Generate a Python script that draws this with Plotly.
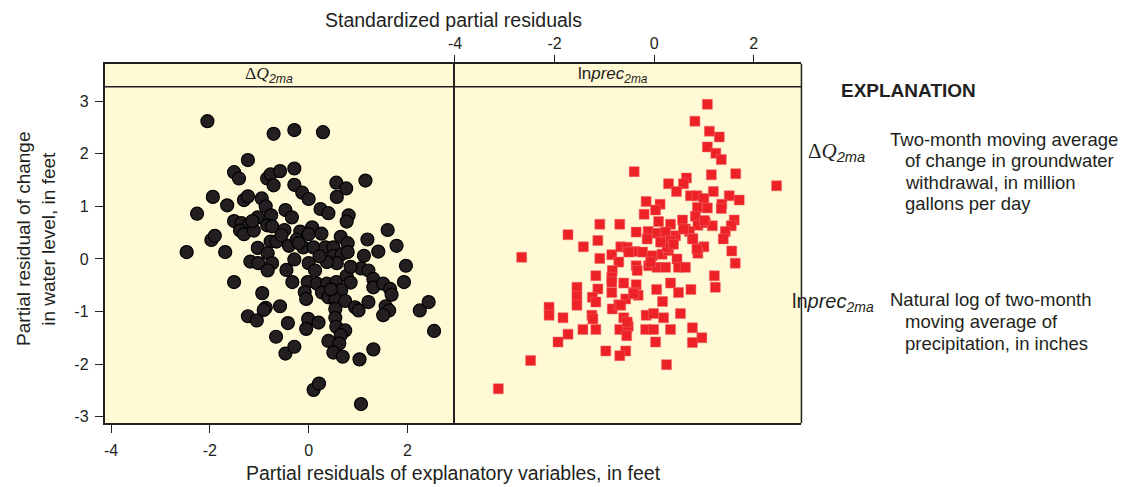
import plotly.graph_objects as go

# Partial residuals for the change-in-withdrawal term (left panel)
dq_x = [
    -2.05, -0.71, -0.29, 0.29, -1.23, -1.51, -1.41, -0.84, -0.77, -0.58,
    -0.29, -0.71, -0.29, -0.13, 0.00, 0.56, 0.76, 0.57, 1.15, -1.94,
    -1.65, -1.31, -1.23, -0.95, -2.26, -0.87, -0.76, -0.47, -0.34, 0.24,
    0.40, 0.81, 0.77, -1.51, -1.36, -1.21, -1.39, -1.31, -1.11, -1.03,
    -0.84, -0.74, -0.49, -0.17, 0.07, 0.00, 0.26, -1.97, -1.90, -2.47,
    -1.69, -1.03, -0.77, -0.65, -0.40, -0.24, -0.11, 0.10, 0.34, 0.50,
    0.65, 0.79, 0.50, 0.67, 0.57, 0.79, 1.19, 1.60, 1.78, 1.41,
    1.12, 1.97, -1.18, -1.02, -0.83, -0.74, -0.83, -0.45, -0.29, 0.00,
    0.13, 0.37, 1.06, 1.21, 1.31, 1.31, 1.51, 1.65, 1.68, 1.93,
    -1.51, -0.33, -0.02, 0.17, 0.37, 0.56, 0.77, 0.85, -0.94, -0.08,
    -0.05, 0.27, 0.40, 0.66, 0.54, 0.74, 0.94, 1.01, 1.21, 1.56,
    1.63, 1.51, -0.87, -0.91, -0.58, 0.54, 0.54, -1.23, -1.05, -0.42,
    -0.01, -0.05, 0.20, 0.56, 0.74, 0.65, 2.25, 2.43, 2.54, -0.66,
    0.40, 0.62, -0.47, -0.29, 0.50, 0.69, 1.03, 1.31, 0.10, 0.21,
    1.06, -1.14, -0.55, 0.22, 0.45, -0.20, 0.85,
]
dq_y = [
    2.62, 2.38, 2.45, 2.41, 1.88, 1.65, 1.53, 1.53, 1.61, 1.67,
    1.72, 1.40, 1.41, 1.26, 1.14, 1.45, 1.34, 1.18, 1.49, 1.18,
    1.02, 1.12, 1.19, 1.15, 0.86, 1.00, 0.83, 0.93, 0.79, 0.95,
    0.87, 0.83, 0.71, 0.72, 0.68, 0.66, 0.54, 0.47, 0.54, 0.79,
    0.64, 0.62, 0.55, 0.52, 0.60, 0.47, 0.48, 0.36, 0.44, 0.13,
    0.13, 0.21, 0.33, 0.33, 0.25, 0.37, 0.22, 0.22, 0.22, 0.22,
    0.42, 0.30, 0.06, 0.09, -0.08, 0.13, 0.37, 0.55, 0.25, 0.14,
    0.06, -0.13, -0.05, -0.08, 0.11, -0.08, -0.22, -0.21, -0.01, -0.08,
    -0.22, -0.06, -0.18, -0.22, -0.38, -0.54, -0.47, -0.57, -0.68, -0.44,
    -0.44, -0.44, -0.44, -0.47, -0.47, -0.44, -0.32, -0.45, -0.65, -0.63,
    -0.76, -0.64, -0.73, -0.59, -0.76, -0.80, -0.92, -0.98, -0.82, -0.90,
    -0.98, -1.07, -0.93, -0.97, -0.90, -0.95, -1.12, -1.09, -1.17, -1.22,
    -1.14, -1.33, -1.21, -1.29, -1.36, -1.45, -0.98, -0.82, -1.37, -1.48,
    -1.56, -1.61, -1.80, -1.67, -1.78, -1.86, -1.91, -1.72, -2.49, -2.37,
    -2.76, 0.72, 0.45, 0.05, -0.58, 0.30, -0.15,
]

# Standardized partial residuals for the log-precipitation term (right panel)
lp_x = [
    1.07, 0.82, 1.11, 1.31, 1.07, 1.24, 1.35, -0.40, 1.15, 1.64,
    2.46, 0.29, 0.65, 0.59, 0.45, 1.19, 0.73, 0.86, 1.00, 1.51,
    1.71, 1.36, 1.35, -0.16, 0.12, 0.03, -0.20, 0.87, 1.07, 0.83,
    0.09, 0.33, 0.57, 0.88, 1.03, 1.17, 1.61, 1.55, 1.43, 1.39,
    -1.09, -0.69, -1.73, -0.36, -0.12, 0.06, 0.23, 0.43, 0.63, 0.71,
    0.77, 0.16, 0.33, -1.13, -1.42, 1.00, 0.88, 1.56, 1.63, -2.66,
    -1.09, -0.85, -0.67, -0.54, -0.39, -0.23, -0.04, 0.16, 0.29, 0.46,
    -0.71, -0.84, -0.36, -0.34, -0.11, 0.06, 0.23, 0.49, 0.63, -1.17,
    -0.85, -0.85, 1.21, 1.23, -0.61, -0.36, 0.33, 0.05, 0.49, 0.74,
    -1.55, -1.55, -1.13, -1.24, -1.17, -0.85, -0.57, -0.41, -0.32, 0.17,
    -1.55, -2.11, -2.11, -1.83, -1.25, -1.23, -0.84, -0.71, -0.61, -0.16,
    -0.01, 0.19, 0.53, -1.43, -1.17, -0.69, -0.52, -0.55, -0.17, -0.01,
    0.33, 0.77, 0.96, 0.77, -1.73, -1.93, 0.03, -0.97, -0.57, -0.69,
    0.25, -2.48, -3.13, -0.51, -0.07, 0.26, 0.39, 0.86, -0.41, -0.67,
    0.13, -0.14, 0.59, 1.01, 0.78, -0.54,
]
lp_y = [
    2.94, 2.62, 2.43, 2.32, 2.13, 2.01, 1.89, 1.66, 1.60, 1.62,
    1.39, 1.43, 1.54, 1.43, 1.28, 1.28, 1.20, 1.20, 1.15, 1.20,
    1.12, 1.04, 0.96, 1.09, 1.04, 0.93, 0.85, 0.98, 0.97, 0.81,
    0.71, 0.66, 0.74, 0.64, 0.69, 0.63, 0.74, 0.63, 0.52, 0.38,
    0.66, 0.66, 0.46, 0.51, 0.52, 0.49, 0.51, 0.44, 0.57, 0.52,
    0.39, 0.32, 0.35, 0.35, 0.23, 0.23, 0.11, 0.15, -0.08, 0.03,
    0.01, 0.08, 0.23, 0.22, 0.14, 0.13, 0.06, 0.09, 0.16, 0.00,
    -0.06, -0.22, -0.13, -0.22, -0.13, -0.16, -0.16, -0.16, -0.16, -0.32,
    -0.35, -0.44, -0.32, -0.54, -0.46, -0.49, -0.46, -0.58, -0.64, -0.58,
    -0.54, -0.71, -0.57, -0.73, -0.82, -0.64, -0.76, -0.64, -0.69, -0.81,
    -0.88, -0.92, -1.07, -1.12, -1.07, -1.14, -0.95, -0.87, -1.12, -1.07,
    -1.04, -1.12, -1.04, -1.34, -1.34, -1.34, -1.28, -1.46, -1.34, -1.34,
    -1.34, -1.31, -1.50, -1.59, -1.43, -1.58, -1.58, -1.75, -1.75, -1.84,
    -2.01, -1.93, -2.47, 0.13, -0.06, 0.22, 0.28, 0.19, -0.66, -0.88,
    0.32, 0.38, 0.57, 0.73, 0.38, -1.20,
]

x_ticks = [-4, -2, 0, 2]
x_tick_text = ["-4", "-2", "0", "2"]
y_ticks = [-3, -2, -1, 0, 1, 2, 3]
y_tick_text = ["-3", "-2", "-1", "0", "1", "2", "3"]

W, H = 1125, 487
SANS = "Liberation Sans, Arial, sans-serif"
SERIF = "Liberation Serif, Times New Roman, serif"
INK = "#231f20"
PANEL_BG = "#fff9d6"
LW = 1.5


def px(x):
    return x / W


def py(y):
    return 1 - y / H


fig = go.Figure()
fig.add_trace(go.Scatter(
    x=dq_x, y=dq_y, mode="markers", xaxis="x", yaxis="y",
    marker=dict(symbol="circle", size=13, color=INK,
                line=dict(color="#000000", width=1.2)),
    showlegend=False, hoverinfo="skip",
))
fig.add_trace(go.Scatter(
    x=lp_x, y=lp_y, mode="markers", xaxis="x2", yaxis="y2",
    marker=dict(symbol="square", size=10, color="#ec2227",
                line=dict(color="#f0686a", width=0.5)),
    showlegend=False, hoverinfo="skip",
))

frame = dict(showline=True, linecolor=INK, linewidth=LW, mirror=True,
             showgrid=False, zeroline=False)
tick_font = dict(family=SANS, size=16, color=INK)
y_dom = [py(425), py(64)]
y_rng = [-3.125, 3.712]

fig.update_layout(
    width=W, height=H,
    margin=dict(l=0, r=0, t=0, b=0),
    paper_bgcolor="white", plot_bgcolor=PANEL_BG,
    xaxis=dict(domain=[px(100), px(450)], range=[-4.133, 2.923], anchor="y",
               tickvals=x_ticks, ticktext=x_tick_text, ticks="outside",
               ticklen=8, tickwidth=1.2, tickcolor=INK, ticklabelstandoff=4,
               tickfont=tick_font, **frame),
    yaxis=dict(domain=y_dom, range=y_rng, anchor="x",
               tickvals=y_ticks, ticktext=y_tick_text, ticks="outside",
               ticklen=8, tickwidth=1.2, tickcolor=INK, ticklabelstandoff=3,
               tickfont=tick_font, **frame),
    xaxis2=dict(domain=[px(450), px(800)], range=[-4.04, 2.96], anchor="y2",
                side="top", tickvals=x_ticks, ticktext=x_tick_text,
                ticks="outside", ticklen=7, tickwidth=1.2, tickcolor=INK,
                tickfont=tick_font, **frame),
    yaxis2=dict(domain=y_dom, range=y_rng, anchor="x2", showline=False,
                showticklabels=False, ticks="", showgrid=False,
                zeroline=False),
)

# right edge of the second panel (the shared divider comes from the left panel)
fig.add_shape(type="line", xref="paper", yref="paper",
              x0=px(800), x1=px(800), y0=py(425), y1=py(64),
              line=dict(color=INK, width=LW))
# strip separating the panel headers from the data area
fig.add_shape(type="line", xref="paper", yref="paper",
              x0=px(100), x1=px(800), y0=py(87), y1=py(87),
              line=dict(color=INK, width=LW))


def note(text, x, y, size, family=SANS, xanchor="center", angle=0):
    fig.add_annotation(text=text, xref="paper", yref="paper",
                       x=px(x), y=py(y), xanchor=xanchor, yanchor="middle",
                       textangle=angle, showarrow=False,
                       font=dict(family=family, size=size, color=INK))


dq_label = (f'<span style="font-family:{SERIF}">Δ<i>Q</i></span>'
            '<sub><i>2ma</i></sub>')
lp_label = 'ln<i>prec</i><sub><i>2ma</i></sub>'

# panel headers
note(dq_label, 265, 75, 17.5)
note(lp_label, 611, 75, 17)

# axis titles
note("Standardized partial residuals", 451, 20, 19.5)
note("Partial residuals of explanatory variables, in feet", 451, 475, 19.5)
note("Partial residual of change", 18, 240, 19, angle=-90)
note("in water level, in feet", 43, 240, 19, angle=-90)

# explanation block
note("<b>EXPLANATION</b>", 908, 91, 19)
note(dq_label, 835, 153, 21)
note("Two-month moving average", 887, 140, 18.5, xanchor="left")
note("of change in groundwater", 902, 161.5, 18.5, xanchor="left")
note("withdrawal, in million", 902, 183, 18.5, xanchor="left")
note("gallons per day", 902, 204.5, 18.5, xanchor="left")
note(lp_label, 832, 304, 20)
note("Natural log of two-month", 887, 301, 18.5, xanchor="left")
note("moving average of", 902, 323, 18.5, xanchor="left")
note("precipitation, in inches", 902, 345, 18.5, xanchor="left")

fig.write_html("out.html")
